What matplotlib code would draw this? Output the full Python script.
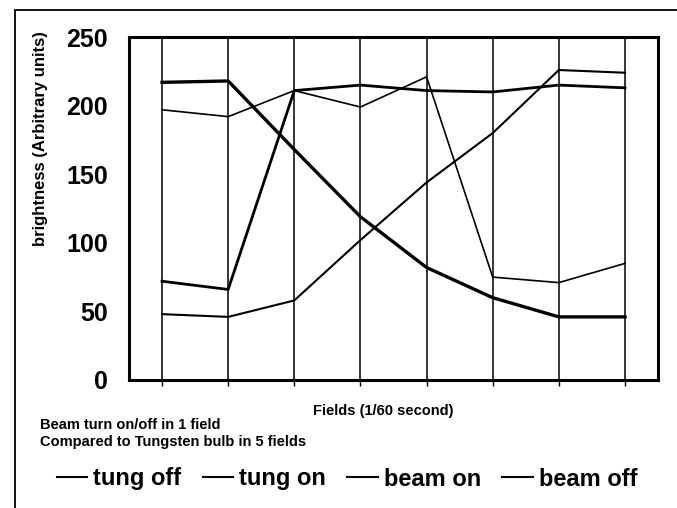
import numpy as np
import matplotlib.pyplot as plt
from matplotlib.patches import Rectangle

# dados (brilho em unidades arbitrárias)
fields = [1, 2, 3, 4, 5, 6, 7, 8]
tung_off = [217, 218, 168, 119, 82, 60, 46, 46]
tung_on = [48, 46, 58, 102, 144, 180, 226, 224]
beam_on = [72, 66, 211, 215, 211, 210, 215, 213]
beam_off = [197, 192, 211, 199, 221, 75, 71, 85]
y_ticks = [0, 50, 100, 150, 200, 250]

plt.rcParams['font.family'] = ['Liberation Sans', 'DejaVu Sans']
plt.rcParams['font.weight'] = 'bold'

fig = plt.figure(figsize=(6.77, 5.08), dpi=100)
ax = fig.add_axes([0.1905, 0.252, 0.7815, 0.675])

# moldura externa
fig.patches.append(Rectangle((15 / 677, -0.2), 1.2, 1.2 - 10 / 508 + 0.0,
                             transform=fig.transFigure, fill=False,
                             edgecolor='black', linewidth=1.3))

l1, = ax.plot(fields, tung_off, color='black', linewidth=2.4, label='tung off')
l2, = ax.plot(fields, tung_on, color='black', linewidth=1.5, label='tung on')
l3, = ax.plot(fields, beam_on, color='black', linewidth=2.0, label='beam on')
l4, = ax.plot(fields, beam_off, color='black', linewidth=1.2, label='beam off')

ax.set_xlim(0.5, 8.5)
ax.set_ylim(0, 250)
ax.set_yticks(y_ticks)
ax.set_xticks(fields)
ax.set_xticklabels([])
ax.tick_params(axis='y', length=0, pad=15, labelsize=18)
ax.tick_params(axis='x', length=4, width=1, direction='out')
for lab in ax.get_yticklabels():
    lab.set_fontweight('bold')
for s in ax.spines.values():
    s.set_linewidth(2.2)
ax.grid(axis='x', color='black', linewidth=1.1)
ax.set_axisbelow(True)

fig.text(41 / 677, 1 - 139 / 508, 'brightness (Arbitrary units)', rotation=90,
         ha='center', va='center', fontsize=12, fontweight='bold')
fig.text(383 / 677, 1 - 411 / 508, 'Fields (1/60 second)', ha='center',
         va='center', fontsize=10.5, fontweight='bold')
fig.text(40 / 677, 1 - 425 / 508, 'Beam turn on/off in 1 field', ha='left',
         va='center', fontsize=10.5, fontweight='bold')
fig.text(40 / 677, 1 - 442 / 508, 'Compared to Tungsten bulb in 5 fields',
         ha='left', va='center', fontsize=10.5, fontweight='bold')

leg = fig.legend(handles=[l1, l2, l3, l4], loc='center', ncol=4,
                 bbox_to_anchor=(347 / 677, 1 - 479 / 508), frameon=False,
                 fontsize=17, handlelength=1.3, handletextpad=0.25,
                 columnspacing=0.9, borderpad=0)
for t in leg.get_texts():
    t.set_fontweight('bold')
for h in leg.legend_handles:
    h.set_linewidth(1.5)

fig.savefig('out.png', dpi=100)
